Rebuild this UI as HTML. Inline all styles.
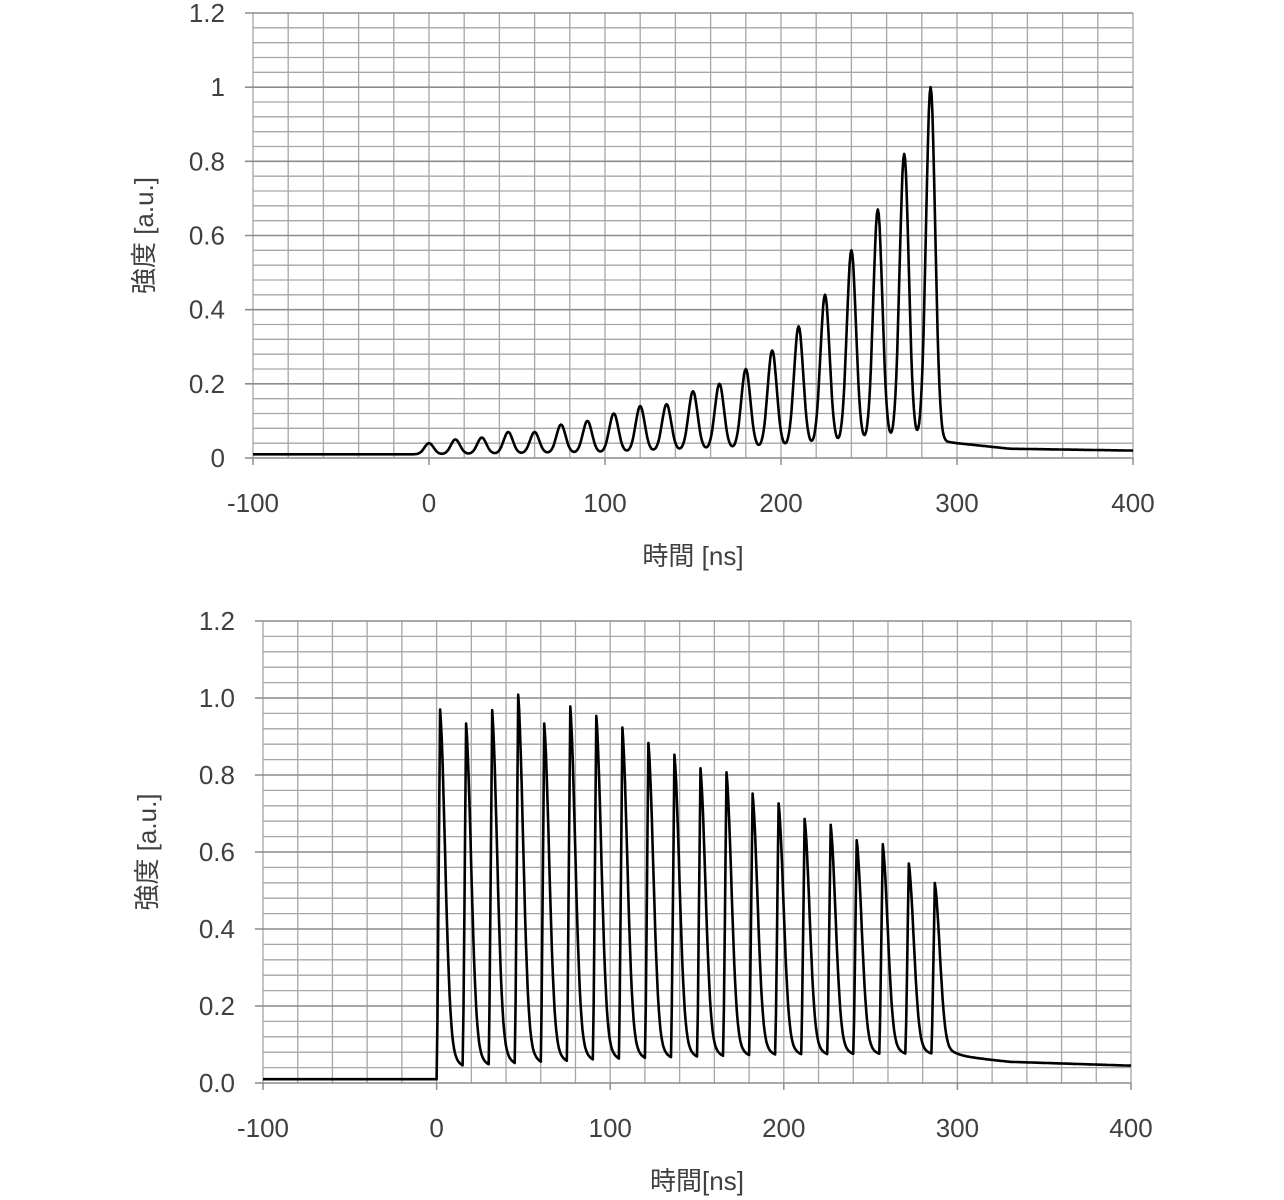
<!DOCTYPE html>
<html><head><meta charset="utf-8"><style>
body{margin:0;background:#fff;}
svg{display:block;font-family:"Liberation Sans","Noto Sans CJK JP",sans-serif;}
text{fill:#404040;font-size:26px;}
</style></head><body>
<svg id="c" width="1284" height="1200" viewBox="0 0 1284 1200"></svg>
<script>
// ---- Top chart data ----
const topPeakTimes = [0,15,30,45,60,75,90,105,120,135,150,165,180,195,210,225,240,255,270,285];
const topPeakHeights = [0.04,0.05,0.055,0.07,0.07,0.09,0.10,0.12,0.14,0.145,0.18,0.20,0.24,0.29,0.355,0.44,0.56,0.67,0.82,1.0];
const topBaseTimes = [-100,0,100,200,250,285,300,330,400];
const topBaseVals = [0.01,0.01,0.015,0.03,0.045,0.05,0.04,0.025,0.02];
// ---- Bottom chart data ----
const botPeakTimes = [2,17,32,47,62,77,92,107,122,137,152,167,182,197,212,227,242,257,272,287];
const botPeakHeights = [0.97,0.925,0.96,1.0,0.925,0.97,0.945,0.915,0.875,0.845,0.81,0.80,0.745,0.72,0.68,0.665,0.625,0.615,0.565,0.515];
const botBaseTimes = [-100,0,3,100,200,292,300,330,400];
const botBaseVals = [0.01,0.01,0.03,0.05,0.065,0.07,0.07,0.055,0.045];
// ---- ticks ----
const xTicks = [-100,0,100,200,300,400];
const topYTicks = ["0","0.2","0.4","0.6","0.8","1","1.2"];
const botYTicks = ["0.0","0.2","0.4","0.6","0.8","1.0","1.2"];

const svg = document.getElementById('c');
const NS = 'http://www.w3.org/2000/svg';
function mk(tag, attrs, parent){const e=document.createElementNS(NS,tag);for(const k in attrs)e.setAttribute(k,attrs[k]);parent.appendChild(e);return e;}
function interp(ts,vs,t){if(t<=ts[0])return vs[0];for(let i=1;i<ts.length;i++){if(t<=ts[i]){const f=(t-ts[i-1])/(ts[i]-ts[i-1]);return vs[i-1]+f*(vs[i]-vs[i-1]);}}return vs[vs.length-1];}

function chart(cfg){
  const g=mk('g',{},svg);
  
  
  const X=v=>cfg.x0+(v+100)/500*(cfg.x1-cfg.x0);
  const Y=v=>cfg.y0-v/1.2*(cfg.y0-cfg.y1);
  for(let v=-100;v<=400;v+=20){const l=mk('line',{x1:X(v),x2:X(v),y1:cfg.y1,y2:cfg.y0,stroke:'#a6a6a6','stroke-width':1.3},g);
    }
  for(let i=0;i<=30;i++){const v=i*0.04;const maj=i%5===0;const l=mk('line',{x1:cfg.x0-(maj?8:0),x2:cfg.x1,y1:Y(v),y2:Y(v),stroke:maj?'#8c8c8c':'#a6a6a6','stroke-width':maj?1.6:1.3},g);
    }
  cfg.yTicks.forEach((s,i)=>{const t=mk('text',{x:cfg.x0-28,y:Y(i*0.2)+9,'text-anchor':'end'},g);t.textContent=s;
    });
  xTicks.forEach(v=>{const t=mk('text',{x:X(v),y:cfg.y0+54,'text-anchor':'middle'},g);t.textContent=String(v);
    
    const m=mk('line',{x1:X(v),x2:X(v),y1:cfg.y0,y2:cfg.y0+7,stroke:'#8c8c8c','stroke-width':1.5},g);
    });
  const yt=mk('text',{x:0,y:0,'text-anchor':'middle',transform:`translate(${cfg.yTitleX},${(cfg.y0+cfg.y1)/2}) rotate(-90)`},g);
  yt.textContent='強度 [a.u.]';
  const xt=mk('text',{x:(cfg.x0+cfg.x1)/2,y:cfg.xTitleY,'text-anchor':'middle'},g);
  xt.textContent=cfg.xTitle;
  let d='';
  for(let t=-100;t<=400;t+=0.5){
    const b=interp(cfg.bt,cfg.bv,t);let v=b;
    cfg.pt.forEach((p,i)=>{const a=cfg.ph[i]-interp(cfg.bt,cfg.bv,p);v+=a*cfg.shape(t-p);});
    d+=(d?'L':'M')+X(t).toFixed(1)+','+Y(v).toFixed(1);
  }
  const path=mk('path',{d:d,fill:'none',stroke:'#000','stroke-width':2.6,'stroke-linejoin':'round'},g);
  
}
chart({name:'top-chart',x0:253,x1:1133,y0:458,y1:13,pt:topPeakTimes,ph:topPeakHeights,bt:topBaseTimes,bv:topBaseVals,
  yTicks:topYTicks,yTitleX:153,xTitle:'時間 [ns]',xTitleY:565,
  shape:dt=>Math.exp(-dt*dt/(2*2.6*2.6))});
chart({name:'bottom-chart',x0:263,x1:1131,y0:1083,y1:621,pt:botPeakTimes,ph:botPeakHeights,bt:botBaseTimes,bv:botBaseVals,
  yTicks:botYTicks,yTitleX:156,xTitle:'時間[ns]',xTitleY:1190,
  shape:dt=>dt<-1.8?0:(dt<0?(dt+1.8)/1.8:0.75*Math.exp(-(dt/4.2)*(dt/4.2))+0.25*Math.exp(-dt/4.5))});
</script>
</body></html>
